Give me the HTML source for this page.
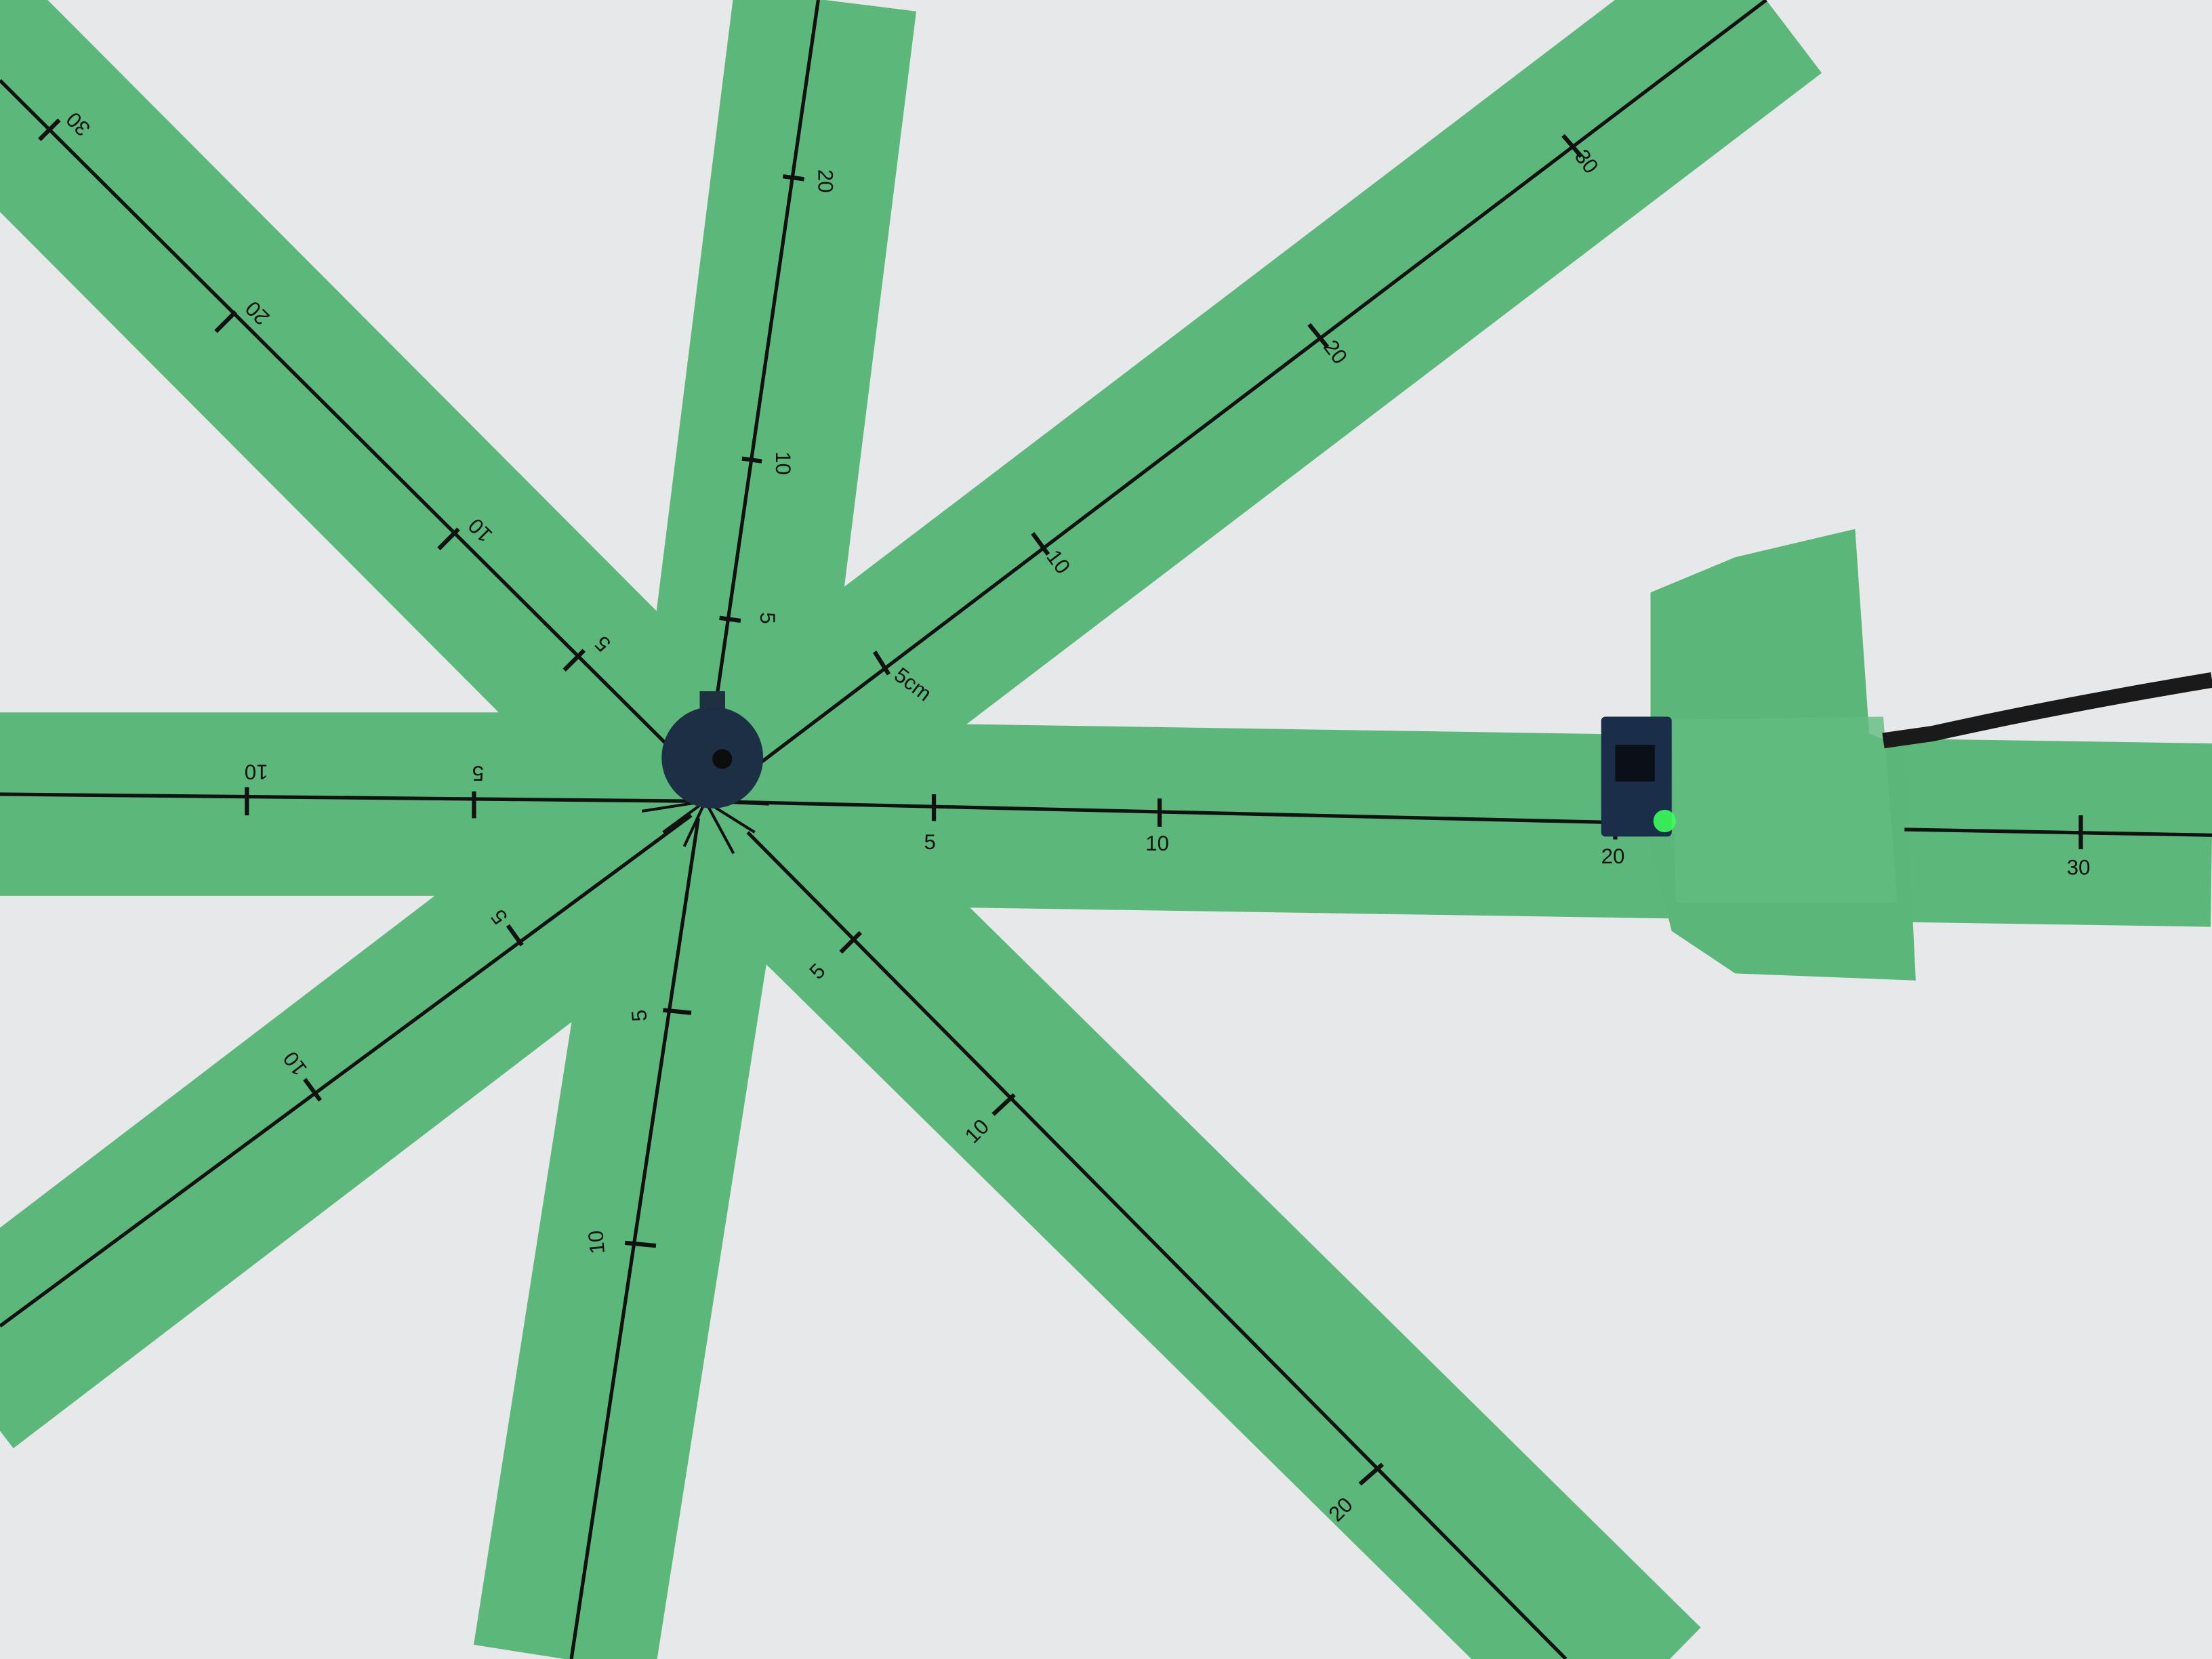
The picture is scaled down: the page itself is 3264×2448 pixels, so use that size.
<!DOCTYPE html>
<html><head><meta charset="utf-8"><style>
html,body{margin:0;padding:0;background:#e7e8ea;overflow:hidden}
svg{display:block}
text{font-family:"Liberation Sans",sans-serif;font-size:15px;fill:#111}
</style></head><body>
<svg width="3264" height="2448" viewBox="0 0 1568 1176" preserveAspectRatio="none" xmlns="http://www.w3.org/2000/svg">
<rect x="0" y="0" width="1568" height="1176" fill="#e7e8ea"/>
<g id="specks"></g>
<g stroke="#5cb87a" stroke-width="130" stroke-linecap="butt">
<line x1="0" y1="570" x2="520" y2="570"/>
<line x1="470" y1="575" x2="1568" y2="592"/>
<line x1="585" y1="0" x2="515" y2="560"/>
<line x1="1252" y1="0" x2="510" y2="565"/>
<line x1="-40" y1="18" x2="520" y2="580"/>
<line x1="-30" y1="975" x2="520" y2="555"/>
<line x1="400" y1="1176" x2="500" y2="540"/>
<line x1="1160" y1="1200" x2="490" y2="540"/>
</g>
<polygon points="1170,420 1230,395 1315,375 1325,520 1350,530 1358,695 1230,690 1185,660 1170,600" fill="#5ab679"/>
<polygon points="1185,510 1335,508 1345,640 1188,640" fill="#62bd80" opacity="0.8"/>
<g stroke="#111" stroke-width="2.5" fill="none">
<line x1="0" y1="563" x2="500" y2="568"/>
<line x1="500" y1="568" x2="1145" y2="583"/>
<line x1="1350" y1="588" x2="1568" y2="592"/>
<line x1="580" y1="0" x2="508" y2="495"/>
<line x1="1252" y1="0" x2="540" y2="540"/>
<line x1="0" y1="57" x2="490" y2="545"/>
<line x1="0" y1="940" x2="490" y2="578"/>
<line x1="495" y1="580" x2="405" y2="1176"/>
<line x1="530" y1="590" x2="1110" y2="1176"/>
</g>
<g stroke="#111" stroke-width="3">
<line x1="175" y1="558" x2="175" y2="578"/><line x1="336" y1="561" x2="336" y2="580"/>
<line x1="662" y1="563" x2="662" y2="582"/><line x1="822" y1="566" x2="822" y2="586"/>
<line x1="1145" y1="573" x2="1145" y2="595"/><line x1="1475" y1="578" x2="1475" y2="602"/>
<line x1="510" y1="438" x2="525" y2="440"/><line x1="526" y1="325" x2="540" y2="327"/><line x1="555" y1="125" x2="570" y2="127"/>
<line x1="620" y1="462" x2="630" y2="478"/><line x1="732" y1="378" x2="743" y2="393"/><line x1="928" y1="230" x2="941" y2="246"/><line x1="1108" y1="96" x2="1121" y2="111"/>
<line x1="400" y1="475" x2="414" y2="461"/><line x1="311" y1="389" x2="325" y2="375"/><line x1="153" y1="235" x2="167" y2="221"/><line x1="28" y1="99" x2="42" y2="85"/>
<line x1="360" y1="656" x2="370" y2="670"/><line x1="216" y1="765" x2="227" y2="780"/>
<line x1="470" y1="716" x2="490" y2="718"/><line x1="443" y1="881" x2="465" y2="883"/>
<line x1="596" y1="675" x2="610" y2="661"/><line x1="704" y1="790" x2="719" y2="776"/><line x1="964" y1="1052" x2="980" y2="1038"/>
</g>
<g>
<text x="170" y="552" transform="rotate(180 180 547)">10</text>
<text x="333" y="553" transform="rotate(180 338 548)">5</text>
<text x="655" y="602">5</text><text x="812" y="603">10</text><text x="1135" y="612">20</text><text x="1465" y="620">30</text>
<text x="540" y="443" transform="rotate(90 544 438)">5</text>
<text x="550" y="332" transform="rotate(90 556 326)">10</text>
<text x="580" y="132" transform="rotate(90 586 126)">20</text>
<text x="633" y="492" transform="rotate(37 650 486)">5cm</text>
<text x="742" y="403" transform="rotate(53 750 398)">10</text>
<text x="940" y="255" transform="rotate(53 948 248)">20</text>
<text x="1118" y="120" transform="rotate(53 1126 113)">30</text>
<text x="420" y="460" transform="rotate(-135 426 455)">5</text>
<text x="330" y="378" transform="rotate(-135 340 374)">10</text>
<text x="172" y="224" transform="rotate(-135 182 220)">20</text>
<text x="45" y="90" transform="rotate(-135 55 86)">30</text>
<text x="350" y="655" transform="rotate(-127 354 650)">5</text>
<text x="203" y="760" transform="rotate(-127 210 755)">10</text>
<text x="448" y="722" transform="rotate(-95 454 718)">5</text>
<text x="415" y="888" transform="rotate(-95 422 882)">10</text>
<text x="575" y="693" transform="rotate(-45 580 688)">5</text>
<text x="683" y="806" transform="rotate(-45 693 800)">10</text>
<text x="940" y="1072" transform="rotate(-45 953 1066)">20</text>
</g>
<g>
<g stroke="#111" stroke-width="2">
<line x1="500" y1="568" x2="455" y2="575"/><line x1="500" y1="568" x2="470" y2="590"/><line x1="500" y1="568" x2="485" y2="600"/>
<line x1="500" y1="568" x2="520" y2="605"/><line x1="500" y1="568" x2="535" y2="590"/><line x1="500" y1="568" x2="545" y2="570"/>
</g>
<rect x="496" y="490" width="18" height="20" fill="#1f3140"/>
<circle cx="505" cy="537" r="36" fill="#1c2f44"/>
<circle cx="512" cy="538" r="7" fill="#0d0d0d"/>
</g>
<g>
<rect x="1135" y="508" width="50" height="85" rx="3" fill="#1a2e4a"/>
<rect x="1145" y="528" width="28" height="26" fill="#0b0f18"/>
<circle cx="1180" cy="582" r="8" fill="#3dff5a" opacity="0.9"/>
</g>
<path d="M1335,525 L1370,520 Q1460,500 1568,482" stroke="#1a1a1a" stroke-width="11" fill="none"/>
<script>
var g=document.getElementById('specks');
var spots=[[120,60],[300,40],[420,140],[700,80],[850,160],[1000,60],[1400,120],[1480,300],[1300,250],[1050,320],[200,300],[80,420],[640,250],[900,420],[1500,420],[40,700],[260,700],[120,1000],[300,1100],[620,900],[800,700],[900,850],[1000,700],[1200,800],[1350,900],[1450,1000],[1250,1100],[1500,1150],[700,1100],[1100,950],[1400,750],[1520,820],[600,1020],[250,850],[1180,1000]];
for(var i=0;i<spots.length;i++){var c=document.createElementNS('http://www.w3.org/2000/svg','circle');


c.setAttribute('cx',spots[i][0]);c.setAttribute('cy',spots[i][1]);c.setAttribute('r',2);c.setAttribute('fill','#c9a27e');g.appendChild(c);}
</script>
</svg>
</body></html>
